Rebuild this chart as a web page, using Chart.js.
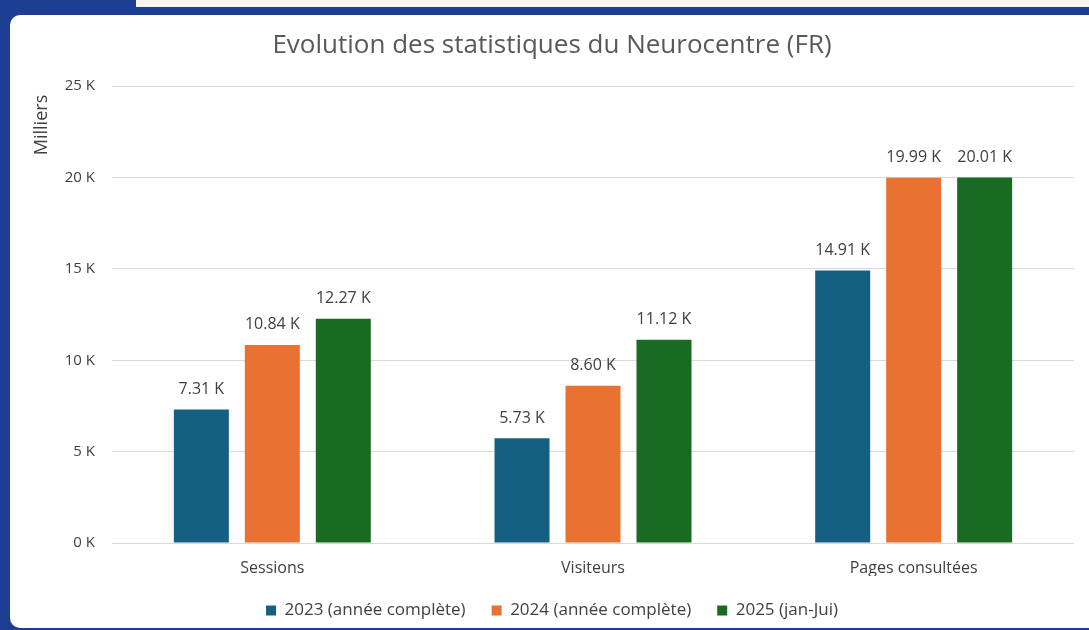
<!DOCTYPE html>
<html lang="fr">
<head>
  <meta charset="UTF-8">
  <title>Evolution des statistiques du Neurocentre (FR)</title>
  <script src="https://cdn.jsdelivr.net/npm/chart.js"></script>
  <style>
    html, body {
      margin: 0;
      padding: 0;
      width: 1089px;
      height: 630px;
      overflow: hidden;
      background: #1d3f93;
    }
    .strip {
      position: absolute;
      left: 136px;
      top: 0;
      width: 953px;
      height: 7px;
      background: #f7f3ee;
    }
    .panel {
      position: absolute;
      left: 10px;
      top: 15px;
      width: 1100px;
      height: 613px;
      background: #ffffff;
      border-radius: 10px;
    }
    canvas {
      position: absolute;
      left: 0;
      top: 0;
    }
  </style>
</head>
<body>

  <div class="strip"></div>
  <div class="panel"></div>
  <canvas id="neuroChart" width="1089" height="630"></canvas>

  <script>
    const categories = ['Sessions', 'Visiteurs', 'Pages consultées'];
    const seriesNames = ['2023 (année complète)', '2024 (année complète)', '2025 (jan-Jui)'];
    // values in thousands
    const values2023 = [7.31, 5.73, 14.91];
    const values2024 = [10.84, 8.60, 19.99];
    const values2025 = [12.27, 11.12, 20.01];
    const yTicks = [0, 5, 10, 15, 20, 25];

    const colors = ['#156082', '#e97132', '#196b24'];
    const textColor = '#404040';
    const fontFamily = '"Open Sans", "Noto Sans", sans-serif';

    // value labels above bars + "Milliers" axis title at the top of the axis
    const extras = {
      id: 'extras',
      afterDatasetsDraw(chart) {
        const ctx = chart.ctx;
        ctx.save();
        ctx.fillStyle = textColor;
        ctx.font = '16px ' + fontFamily;
        ctx.textAlign = 'center';
        ctx.textBaseline = 'middle';
        chart.data.datasets.forEach((ds, i) => {
          chart.getDatasetMeta(i).data.forEach((bar, j) => {
            ctx.fillText(ds.data[j].toFixed(2) + ' K', bar.x, bar.y - 20);
          });
        });

        ctx.translate(42, 125);
        ctx.rotate(-Math.PI / 2);
        ctx.font = '18px ' + fontFamily;
        ctx.fillText('Milliers', 0, 0);
        ctx.restore();
      }
    };

    const ctx = document.getElementById('neuroChart').getContext('2d');
    new Chart(ctx, {
      type: 'bar',
      data: {
        labels: categories,
        datasets: [
          { label: seriesNames[0], data: values2023, backgroundColor: colors[0] },
          { label: seriesNames[1], data: values2024, backgroundColor: colors[1] },
          { label: seriesNames[2], data: values2025, backgroundColor: colors[2] }
        ]
      },
      options: {
        responsive: false,
        animation: false,
        categoryPercentage: 0.664,
        barPercentage: 0.775,
        layout: { padding: { left: 30, right: 15, top: 0, bottom: 1 } },
        plugins: {
          title: {
            display: true,
            text: 'Evolution des statistiques du Neurocentre (FR)',
            color: '#595959',
            font: { family: fontFamily, size: 26, weight: 'normal' },
            padding: { top: 30, bottom: 25 }
          },
          legend: {
            position: 'bottom',
            labels: {
              color: textColor,
              font: { family: fontFamily, size: 17 },
              boxWidth: 10,
              boxHeight: 10,
              padding: 26
            }
          },
          tooltip: { enabled: false }
        },
        scales: {
          x: {
            afterFit: (scale) => { scale.height = 33; },
            grid: { display: false, drawTicks: false },
            border: { display: false },
            ticks: { color: textColor, font: { family: fontFamily, size: 16 }, padding: 16 }
          },
          y: {
            min: 0,
            max: 25,
            afterBuildTicks: (scale) => { scale.ticks = yTicks.map(v => ({ value: v })); },
            afterFit: (scale) => { scale.width = 82; },
            grid: { color: '#d9d9d9', drawTicks: false },
            border: { display: false },
            ticks: {
              color: textColor,
              font: { family: fontFamily, size: 15 },
              padding: 17,
              callback: (v) => v + ' K'
            }
          }
        }
      },
      plugins: [extras]
    });
  </script>

</body>
</html>
